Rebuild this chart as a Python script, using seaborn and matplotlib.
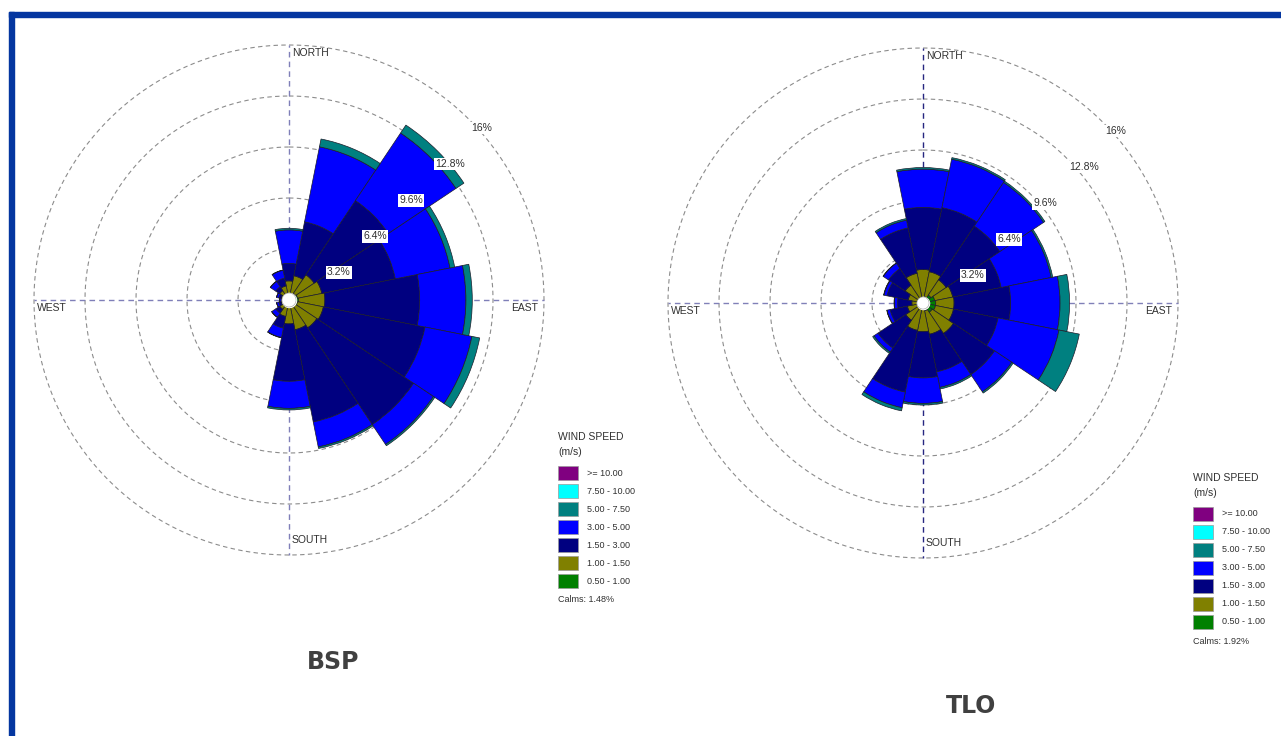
import numpy as np
import matplotlib
matplotlib.use("Agg")
import matplotlib.pyplot as plt
from matplotlib.patches import Rectangle
import seaborn as sns

# ---------------------------------------------------------------- data
DIRECTIONS = ["N", "NNE", "NE", "ENE", "E", "ESE", "SE", "SSE",
              "S", "SSW", "SW", "WSW", "W", "WNW", "NW", "NNW"]

SPEED_LABELS = [">= 10.00", "7.50 - 10.00", "5.00 - 7.50", "3.00 - 5.00",
                "1.50 - 3.00", "1.00 - 1.50", "0.50 - 1.00"]
SPEED_COLORS = ["#800080", "#00ffff", "#008080", "#0000ff",
                "#000080", "#808000", "#008000"]
RING_VALUES = [3.2, 6.4, 9.6, 12.8, 16.0]
RING_LABELS = ["3.2%", "6.4%", "9.6%", "12.8%", "16%"]

# BSP frequencies (%) per direction, one list per speed class
bsp_0p5_1 = [0.30, 0.35, 0.50, 0.55, 0.60, 0.55, 0.50, 0.40,
             0.35, 0.30, 0.25, 0.25, 0.25, 0.25, 0.25, 0.30]
bsp_1_1p5 = [0.90, 1.20, 1.40, 1.55, 1.65, 1.65, 1.60, 1.50,
             1.15, 0.75, 0.45, 0.25, 0.20, 0.25, 0.45, 0.60]
bsp_1p5_3 = [1.10, 3.45, 5.60, 4.70, 5.95, 6.50, 7.30, 5.90,
             3.60, 0.75, 0.30, 0.15, 0.05, 0.15, 0.30, 0.50]
bsp_3_5 = [2.10, 4.80, 5.10, 3.50, 2.90, 3.00, 1.50, 1.60,
           1.70, 0.60, 0.30, 0.15, 0.10, 0.15, 0.40, 0.50]
bsp_5_7p5 = [0.10, 0.50, 0.60, 0.30, 0.40, 0.50, 0.10, 0.10,
             0.10, 0.02, 0.02, 0.00, 0.00, 0.00, 0.02, 0.02]
bsp_calms = 1.48

# TLO frequencies (%) per direction, one list per speed class
tlo_0p5_1 = [0.30, 0.40, 0.60, 0.75, 0.80, 0.80, 0.70, 0.50,
             0.35, 0.30, 0.30, 0.30, 0.30, 0.30, 0.30, 0.30]
tlo_1_1p5 = [1.80, 1.60, 1.15, 1.15, 1.15, 1.15, 1.60, 1.50,
             1.45, 1.45, 1.00, 0.70, 0.40, 0.65, 1.05, 1.60]
tlo_1p5_3 = [3.90, 4.10, 4.05, 3.10, 3.55, 2.85, 3.10, 2.40,
             2.90, 3.95, 2.10, 1.10, 0.90, 1.35, 1.25, 2.90]
tlo_3_5 = [2.40, 3.10, 3.30, 3.20, 3.10, 3.90, 1.30, 1.00,
           1.60, 1.00, 0.30, 0.20, 0.20, 0.20, 0.40, 0.50]
tlo_5_7p5 = [0.10, 0.10, 0.10, 0.10, 0.60, 1.30, 0.10, 0.10,
             0.10, 0.20, 0.10, 0.02, 0.02, 0.02, 0.02, 0.10]
tlo_calms = 1.92

# ---------------------------------------------------------------- style
sns.set_theme(style="white")
plt.rcParams["font.family"] = ["Liberation Sans", "DejaVu Sans"]

W, H = 1281, 736
fig = plt.figure(figsize=(W / 100, H / 100), dpi=100)
fig.patch.set_facecolor("white")

FRAME = "#0436a0"
fig.patches.append(Rectangle((9 / W, 1 - 17 / H), 1 - 9 / W, 5 / H,
                             transform=fig.transFigure, color=FRAME, zorder=0))
fig.patches.append(Rectangle((9 / W, 0), 5 / W, 1 - 12 / H,
                             transform=fig.transFigure, color=FRAME, zorder=0))

RMAX = 16.0
RADIUS_PX = 255.0


def draw_rose(cx, cy, classes, calm_r, axis_color, title, title_xy, legend_xy, calms):
    ax = fig.add_axes([(cx - RADIUS_PX) / W, 1 - (cy + RADIUS_PX) / H,
                       2 * RADIUS_PX / W, 2 * RADIUS_PX / H], projection="polar")
    ax.set_theta_zero_location("N")
    ax.set_theta_direction(-1)
    ax.set_ylim(0, RMAX)
    ax.set_xticks([])
    ax.set_yticks([])
    ax.grid(False)
    ax.spines["polar"].set_visible(False)
    ax.set_facecolor("none")

    theta = np.deg2rad(np.arange(16) * 22.5)
    width = 2 * np.pi / 16

    # range rings
    t = np.linspace(0, 2 * np.pi, 721)
    for r in RING_VALUES:
        ax.plot(t, np.full_like(t, r), ls=(0, (4, 3)), color="#8c8c8c",
                lw=0.8, clip_on=False, zorder=1)

    # compass axes
    for ang, col in ((0, axis_color[0]), (np.pi, axis_color[0]),
                     (np.pi / 2, axis_color[1]), (3 * np.pi / 2, axis_color[1])):
        ax.plot([ang, ang], [0, RMAX], ls=(0, (4, 3)), color=col, lw=1.0,
                clip_on=False, zorder=1)

    # stacked speed classes, lowest speed innermost
    colors = SPEED_COLORS[::-1]  # 0.5-1 first
    bottom = np.zeros(16)
    for vals, col in zip(classes, colors):
        vals = np.asarray(vals)
        ax.bar(theta, vals, width=width, bottom=bottom, color=col,
               edgecolor="#1c1c2a", linewidth=0.5, zorder=3)
        bottom = bottom + vals

    # calm circle
    ax.fill_between(t, 0, calm_r, color="white", zorder=5)
    ax.plot(t, np.full_like(t, calm_r), color="#9a9a9a", lw=0.4, zorder=6)

    # ring labels along the north-east diagonal
    for r, lab in zip(RING_VALUES, RING_LABELS):
        ax.annotate(lab, xy=(np.deg2rad(45), r), xytext=(1.5, -2.5),
                    textcoords="offset points", ha="left", va="top",
                    fontsize=7.5, color="#303030", zorder=7,
                    bbox=dict(boxstyle="square,pad=0.12", fc="white", ec="none"),
                    annotation_clip=False)

    # compass names
    fs = 7.5
    fig.text((cx + 3) / W, 1 - (cy - RADIUS_PX + 8) / H, "NORTH", fontsize=fs,
             color="#303030", ha="left", va="center")
    fig.text((cx + 3) / W, 1 - (cy + RADIUS_PX - 15) / H, "SOUTH", fontsize=fs,
             color="#303030", ha="left", va="center")
    fig.text((cx - RADIUS_PX + 3) / W, 1 - (cy + 8) / H, "WEST", fontsize=fs,
             color="#303030", ha="left", va="center")
    fig.text((cx + RADIUS_PX - 33) / W, 1 - (cy + 8) / H, "EAST", fontsize=fs,
             color="#303030", ha="left", va="center")

    # legend
    lx, ly = legend_xy
    fig.text(lx / W, 1 - ly / H, "WIND SPEED", fontsize=7.5, color="#303030",
             ha="left", va="center")
    fig.text(lx / W, 1 - (ly + 15) / H, "(m/s)", fontsize=7.5, color="#303030",
             ha="left", va="center")
    for i, (lab, col) in enumerate(zip(SPEED_LABELS, SPEED_COLORS)):
        yc = ly + 36 + i * 18
        fig.patches.append(Rectangle((lx / W, 1 - (yc + 7) / H), 20 / W, 14 / H,
                                     transform=fig.transFigure, facecolor=col,
                                     edgecolor="#9a9a9a", linewidth=0.5))
        fig.text((lx + 29) / W, 1 - yc / H, lab, fontsize=6.5, color="#303030",
                 ha="left", va="center")
    fig.text(lx / W, 1 - (ly + 163) / H, f"Calms: {calms:.2f}%", fontsize=6.5,
             color="#303030", ha="left", va="center")

    fig.text(title_xy[0] / W, 1 - title_xy[1] / H, title, fontsize=17,
             fontweight="bold", color="#404040", ha="center", va="center",
             family="DejaVu Sans")
    return ax


draw_rose(289, 300,
          [bsp_0p5_1, bsp_1_1p5, bsp_1p5_3, bsp_3_5, bsp_5_7p5],
          0.44, ("#7f7fb8", "#7f7fb8"), "BSP", (333, 662), (558, 437), bsp_calms)
draw_rose(923, 303,
          [tlo_0p5_1, tlo_1_1p5, tlo_1p5_3, tlo_3_5, tlo_5_7p5],
          0.38, ("#262680", "#8080b8"), "TLO", (971, 706), (1193, 478), tlo_calms)

fig.savefig("out.png", dpi=100, facecolor="white")
